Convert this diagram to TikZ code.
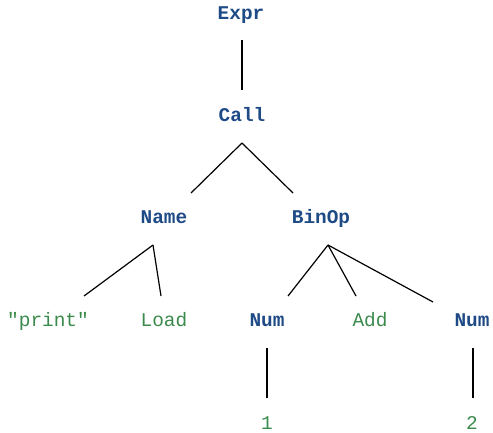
\documentclass[tikz,border=0pt]{standalone}
\usepackage{fontspec}
\setmonofont{Liberation Mono}
\definecolor{ntblue}{HTML}{1E4A86}
\definecolor{tmgreen}{HTML}{3A8A4C}
\begin{document}
\begin{tikzpicture}[x=1bp,y=-1bp,
  every node/.style={inner sep=0pt,anchor=base,font=\fontsize{19.5}{20}\selectfont\ttfamily},
  nonterm/.style={text=ntblue,font=\fontsize{19.5}{20}\selectfont\ttfamily\bfseries},
  term/.style={text=tmgreen},
  edge/.style={draw=black,line width=1.2bp}]
\useasboundingbox (0,0) rectangle (493,432);
% tree nodes, placed on their baselines
\node[nonterm] (expr)  at (241,19)  {Expr};
\node[nonterm] (call)  at (242,121) {Call};
\node[nonterm] (name)  at (164,223) {Name};
\node[nonterm] (binop) at (321,223) {BinOp};
\node[term]    (str)   at (48,326)  {"print"};
\node[term]    (load)  at (164,326) {Load};
\node[nonterm] (numa)  at (267,326) {Num};
\node[term]    (add)   at (370,326) {Add};
\node[nonterm] (numb)  at (472,326) {Num};
\node[term,text depth=0pt] (one) at (267,429) {1};
\node[term,text depth=0pt] (two) at (472,429) {2};
% connectors
\draw[edge] ([shift={(1,21)}]expr.base) -- ([shift={(0,-31)}]call.base);
\draw[edge] ([shift={(0,22)}]call.base) -- ([shift={(27,-30)}]name.base);
\draw[edge] ([shift={(0,22)}]call.base) -- ([shift={(-28,-30)}]binop.base);
\draw[edge] ([shift={(-11,22)}]name.base) -- ([shift={(36,-30)}]str.base);
\draw[edge] ([shift={(-11,22)}]name.base) -- ([shift={(-3,-30)}]load.base);
\draw[edge] ([shift={(7,22)}]binop.base) -- ([shift={(21,-30)}]numa.base);
\draw[edge] ([shift={(7,22)}]binop.base) -- ([shift={(-14,-30)}]add.base);
\draw[edge] ([shift={(7,22)}]binop.base) -- ([shift={(-39,-24)}]numb.base);
\draw[edge] ([shift={(0,22)}]numa.base) -- ([shift={(0,-31)}]one.base);
\draw[edge] ([shift={(1,22)}]numb.base) -- ([shift={(1,-31)}]two.base);
\end{tikzpicture}
\end{document}
